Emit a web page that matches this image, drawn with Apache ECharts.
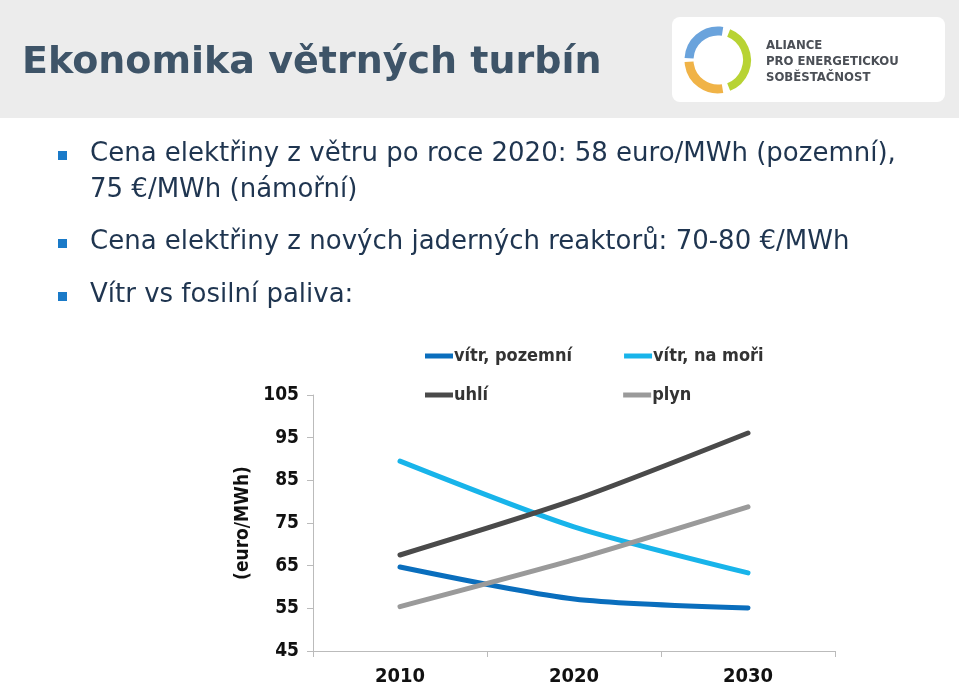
<!DOCTYPE html>
<html><head><meta charset="utf-8">
<script src="https://cdn.jsdelivr.net/npm/echarts@6/dist/echarts.min.js"></script>
<style>html,body{margin:0;padding:0;background:#fff}#c{width:959px;height:687px}</style>
</head><body><div id="c"></div>
<script>
const categories = ['2010','2020','2030'];
const seriesNames = ['vítr, pozemní','vítr, na moři','uhlí','plyn'];
const onshore = [64.7, 57.2, 55.1];
const offshore = [89.5, 74.1, 63.3];
const coal = [67.5, 80.4, 96.1];
const gas = [55.4, 66.4, 78.8];
const yTicks = [45, 105, 10];
const colors = ['#0a6ebd','#18b4ea','#4a4a4a','#9a9a9a'];
const bullets = ['Cena elektřiny z větru po roce 2020: 58 euro/MWh (pozemní),','75 €/MWh (námořní)','Cena elektřiny z nových jaderných reaktorů: 70-80 €/MWh','Vítr vs fosilní paliva:'];
const font = '"DejaVu Sans Condensed","DejaVu Sans",sans-serif';
const wide = '"DejaVu Sans",sans-serif';
const chart = echarts.init(document.getElementById('c'));
const textColor = '#1f3550';
const g = [
  {type:'rect',shape:{x:0,y:0,width:959,height:118},style:{fill:'#ececec'},silent:true},
  {type:'text',left:22,top:44,style:{text:'Ekonomika větrných turbín',font:'bold 38px '+wide,fill:'#3e5468'}},
  {type:'rect',shape:{x:672,y:17,width:273,height:85,r:8},style:{fill:'#fff'}},
  {type:'arc',shape:{cx:718,cy:60,r:29,startAngle:Math.PI*1.02,endAngle:Math.PI*1.55},style:{stroke:'#6aa3dc',lineWidth:9,fill:null}},
  {type:'arc',shape:{cx:718,cy:60,r:29,startAngle:Math.PI*0.45,endAngle:Math.PI*0.98},style:{stroke:'#f0b347',lineWidth:9,fill:null}},
  {type:'arc',shape:{cx:718,cy:60,r:29,startAngle:-Math.PI*0.38,endAngle:Math.PI*0.38},style:{stroke:'#b8d334',lineWidth:8,fill:null}},
  {type:'text',left:766,top:38,style:{text:'ALIANCE\nPRO ENERGETICKOU\nSOBĚSTAČNOST',font:'bold 13px '+font,lineHeight:16,fill:'#4b4f56'}},
  {type:'text',left:90,top:141,style:{text:bullets[0],font:'26px '+wide,fill:textColor}},
  {type:'text',left:90,top:177,style:{text:bullets[1],font:'26px '+wide,fill:textColor}},
  {type:'text',left:90,top:229,style:{text:bullets[2],font:'26px '+wide,fill:textColor}},
  {type:'text',left:90,top:282,style:{text:bullets[3],font:'26px '+wide,fill:textColor}},
  {type:'rect',shape:{x:58,y:151,width:9,height:9},style:{fill:'#1a7ac8'}},
  {type:'rect',shape:{x:58,y:239,width:9,height:9},style:{fill:'#1a7ac8'}},
  {type:'rect',shape:{x:58,y:292,width:9,height:9},style:{fill:'#1a7ac8'}}
];
const mk = (i, d) => ({name:seriesNames[i],type:'line',data:d,smooth:0.25,symbol:'none',
  lineStyle:{width:5,color:colors[i],cap:'round'},itemStyle:{color:colors[i]}});
const lt = {fontFamily:font,fontSize:18,fontWeight:'bold',color:'#333',padding:[0,0,0,-4]};
chart.setOption({
  animation:false,
  graphic:g,
  legend:[
    {data:[seriesNames[0],seriesNames[1]],left:420,top:342,itemGap:52,itemWidth:28,itemHeight:5,icon:'rect',textStyle:lt},
    {data:[seriesNames[2],seriesNames[3]],left:420,top:381,itemGap:135,itemWidth:28,itemHeight:5,icon:'rect',textStyle:lt}
  ],
  grid:{left:313,right:124,top:395,bottom:36,containLabel:false},
  xAxis:{type:'category',data:categories,boundaryGap:true,
    axisLine:{lineStyle:{color:'#bbb'}},axisTick:{show:true,alignWithLabel:false,length:6,lineStyle:{color:'#bbb'}},
    axisLabel:{fontFamily:font,fontSize:20,fontWeight:'bold',color:'#111',margin:16}},
  yAxis:{type:'value',min:yTicks[0],max:yTicks[1],interval:yTicks[2],
    name:'(euro/MWh)',nameLocation:'middle',nameGap:58,nameRotate:90,
    nameTextStyle:{fontFamily:font,fontSize:19,fontWeight:'bold',color:'#111'},
    axisLine:{show:true,lineStyle:{color:'#bbb'}},axisTick:{show:true,length:6,lineStyle:{color:'#bbb'}},
    splitLine:{show:false},
    axisLabel:{fontFamily:font,fontSize:19,fontWeight:'bold',color:'#111',margin:14}},
  series:[mk(0,onshore),mk(1,offshore),mk(2,coal),mk(3,gas)]
});
</script></body></html>
